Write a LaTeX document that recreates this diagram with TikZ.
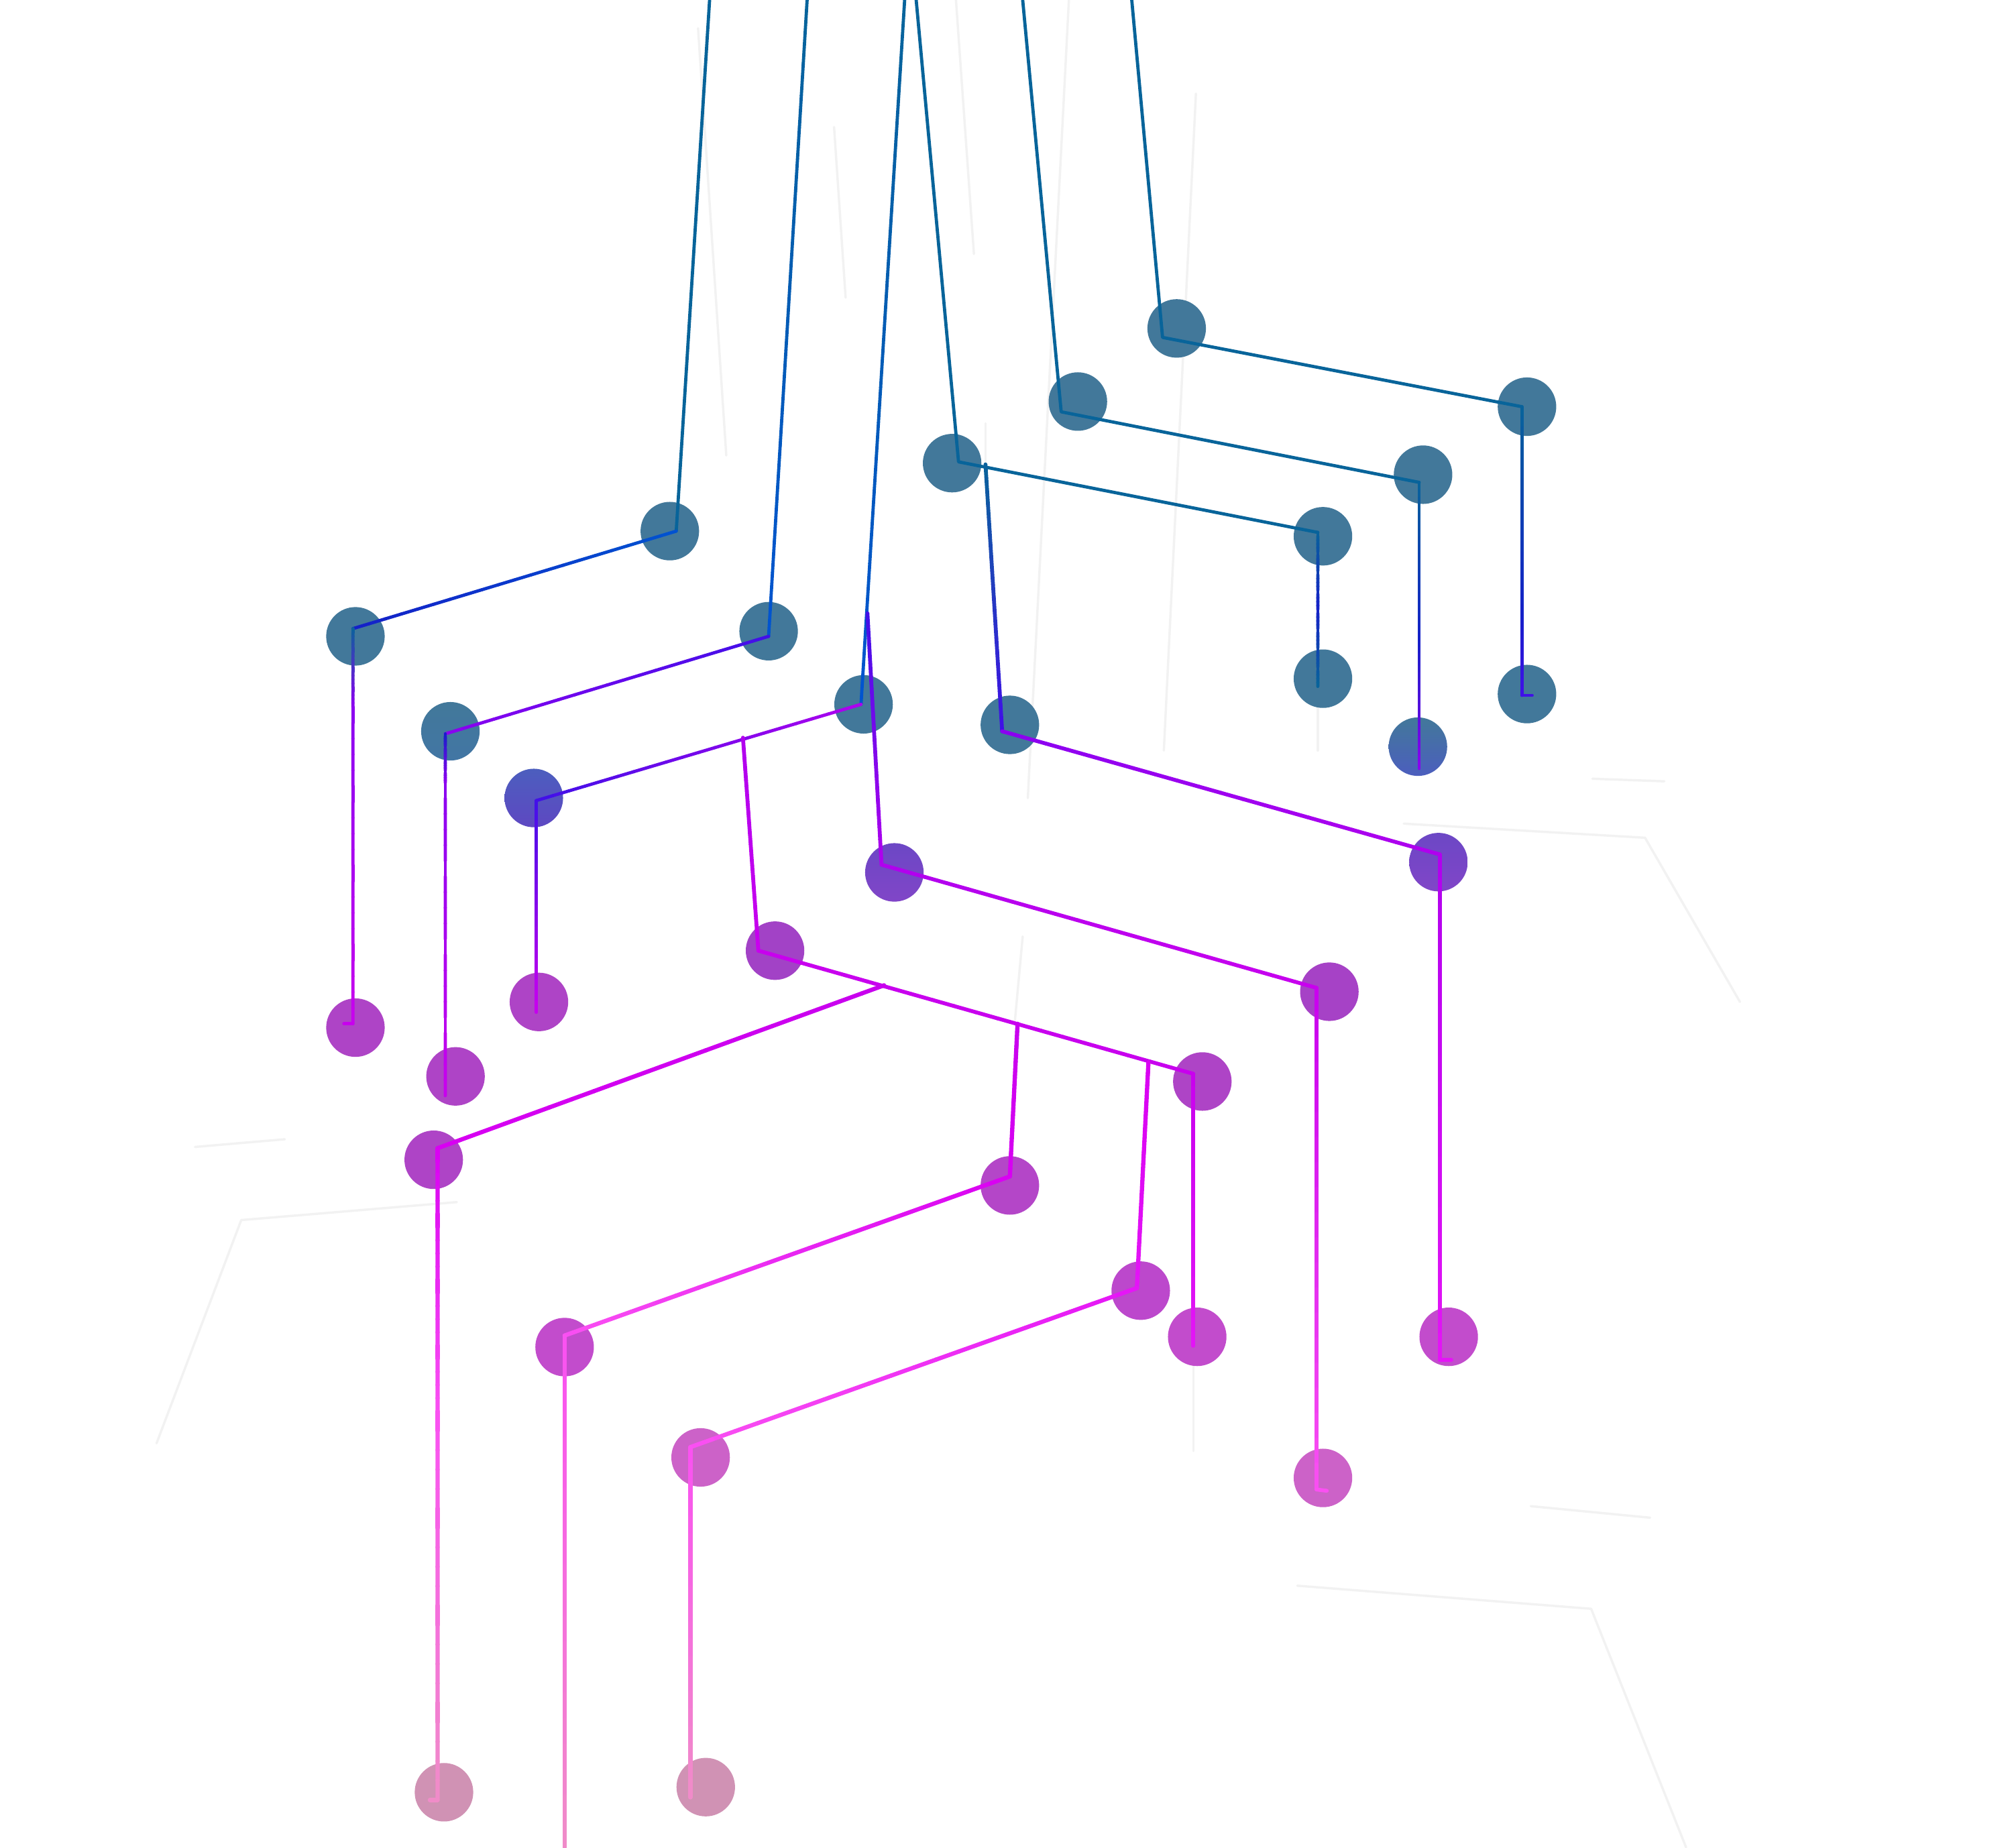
\documentclass[tikz,border=0pt]{standalone}
\usetikzlibrary{calc}
\definecolor{cT}{HTML}{08649A}
\definecolor{cB}{HTML}{0054D0}
\definecolor{cBd}{HTML}{1420C8}
\definecolor{cBV}{HTML}{4010E8}
\definecolor{cV}{HTML}{8A00F0}
\definecolor{cP}{HTML}{B000EE}
\definecolor{cM}{HTML}{C800EE}
\definecolor{cMd}{HTML}{D800F2}
\definecolor{cMb}{HTML}{E414F6}
\definecolor{cPk}{HTML}{FA50F2}
\definecolor{cPl}{HTML}{F08CC8}
\definecolor{dT}{HTML}{42789A}
\definecolor{dTb}{HTML}{4276A4}
\definecolor{dBl}{HTML}{4C5EBE}
\definecolor{dBV}{HTML}{5E48C2}
\definecolor{dVi}{HTML}{7A46C8}
\definecolor{dPu}{HTML}{A642C6}
\definecolor{dPm}{HTML}{AE44C6}
\definecolor{dMa}{HTML}{BC48CC}
\definecolor{dMl}{HTML}{C24CCC}
\definecolor{dLi}{HTML}{CC62C8}
\definecolor{dPk}{HTML}{D092B4}
\newcommand\wireseg[4]{%
  \foreach \k in {1,...,20}{%
    \pgfmathsetmacro\pa{(\k-1)/20}%
    \pgfmathsetmacro\pb{\k/20}%
    \pgfmathtruncatemacro\pc{round(100*(\k-0.5)/20)}%
    \draw[color=#4!\pc!#3] ($(#1)!\pa!(#2)$) -- ($(#1)!\pb!(#2)$);
  }}
\begin{document}
\begin{tikzpicture}[x=0.5pt,y=-0.5pt,line cap=round,line join=round,
  dot/.style={circle,inner sep=0pt,minimum size=22.8pt,draw=none},
  faint/.style={draw=black!5,line width=0.9pt},
  thinwire/.style={line width=1.25pt},
  midwire/.style={line width=1.5pt},
  thickwire/.style={line width=1.65pt}]
\useasboundingbox (0,0) rectangle (1568,1440);
\fill[white] (0,0) rectangle (1568,1440);

% faint background traces
\coordinate (g1a) at (544,22); \coordinate (g1b) at (566,355);
\coordinate (g2a) at (745,0); \coordinate (g2b) at (759,198);
\coordinate (g3a) at (650,99); \coordinate (g3b) at (659,232);
\coordinate (g4a) at (833,0); \coordinate (g4b) at (801,622);
\coordinate (g5a) at (932,73); \coordinate (g5b) at (907,585);
\coordinate (g6a) at (1094,642); \coordinate (g6b) at (1282,653); \coordinate (g6c) at (1356,781);
\coordinate (g7a) at (1241,607); \coordinate (g7b) at (1297,609);
\coordinate (g8a) at (356,937); \coordinate (g8b) at (188,951); \coordinate (g8c) at (122,1125);
\coordinate (g9a) at (152,894); \coordinate (g9b) at (222,888);
\coordinate (g10a) at (1011,1236); \coordinate (g10b) at (1240,1254); \coordinate (g10c) at (1314,1440);
\coordinate (g11a) at (1193,1174); \coordinate (g11b) at (1286,1183);
\coordinate (g12a) at (930,1065); \coordinate (g12b) at (930,1131);
\coordinate (g13a) at (797,730); \coordinate (g13b) at (791,795);
\coordinate (g14a) at (1027,545); \coordinate (g14b) at (1027,585);
\coordinate (g15a) at (768,330); \coordinate (g15b) at (768,362);
\draw[faint] (g1a) -- (g1b);
\draw[faint] (g2a) -- (g2b);
\draw[faint] (g3a) -- (g3b);
\draw[faint] (g4a) -- (g4b);
\draw[faint] (g5a) -- (g5b);
\draw[faint] (g6a) -- (g6b) -- (g6c);
\draw[faint] (g7a) -- (g7b);
\draw[faint] (g8a) -- (g8b) -- (g8c);
\draw[faint] (g9a) -- (g9b);
\draw[faint] (g10a) -- (g10b) -- (g10c);
\draw[faint] (g11a) -- (g11b);
\draw[faint] (g12a) -- (g12b);
\draw[faint] (g13a) -- (g13b);
\draw[faint] (g14a) -- (g14b);
\draw[faint] (g15a) -- (g15b);

% dots
\node[dot,fill=dT] (d1) at (917,256) {};
\node[dot,fill=dT] (d2) at (1190,317) {};
\node[dot,fill=dT] (d3) at (840,313) {};
\node[dot,fill=dT] (d4) at (1109,370) {};
\node[dot,fill=dT] (d5) at (742,361) {};
\node[dot,fill=dT] (d6) at (1031,418) {};
\node[dot,fill=dT] (d7) at (522,414) {};
\node[dot,fill=dT] (d8) at (277,496) {};
\node[dot,fill=dT] (d9) at (599,492) {};
\node[dot,top color=dT,bottom color=dTb] (d10) at (351,570) {};
\node[dot,fill=dT] (d11) at (673,549) {};
\node[dot,fill=dT] (d12) at (1031,529) {};
\node[dot,fill=dT] (d13) at (1190,541) {};
\node[dot,fill=dT] (d14) at (787,565) {};
\node[dot,top color=dT,bottom color=dBl] (d15) at (1105,582) {};
\node[dot,top color=dBl,bottom color=dBV] (d16) at (416,622) {};
\node[dot,top color=dBV!50!dVi,bottom color=dVi!85!dPu] (d17) at (1121,672) {};
\node[dot,top color=dBV!50!dVi,bottom color=dVi!85!dPu] (d18) at (697,680) {};
\node[dot,fill=dPu!90!dVi] (d19) at (604,741) {};
\node[dot,fill=dPu] (d20) at (1036,773) {};
\node[dot,fill=dPm] (d21) at (277,801) {};
\node[dot,fill=dPm] (d22) at (420,781) {};
\node[dot,fill=dPm] (d23) at (355,839) {};
\node[dot,fill=dPm] (d24) at (937,843) {};
\node[dot,fill=dPm] (d25) at (338,904) {};
\node[dot,fill=dPm!60!dMa] (d26) at (787,924) {};
\node[dot,fill=dMa] (d27) at (889,1006) {};
\node[dot,fill=dMl] (d28) at (440,1050) {};
\node[dot,fill=dMl] (d29) at (933,1042) {};
\node[dot,fill=dMl] (d30) at (1129,1042) {};
\node[dot,fill=dLi] (d31) at (546,1136) {};
\node[dot,fill=dLi] (d32) at (1031,1152) {};
\node[dot,fill=dPk] (d33) at (346,1397) {};
\node[dot,fill=dPk] (d34) at (550,1393) {};

% ---------- left group from the top ----------
\begin{scope}[thinwire]
\coordinate (l1a) at (553,0); \coordinate (l1b) at (527,414);
\coordinate (l1c) at (275,490); \coordinate (l1m) at (275,551);
\coordinate (l1d) at (275,798); \coordinate (l1e) at (268,798);
\draw[cT] (l1a) -- (l1b);
\wireseg{l1b}{l1c}{cB}{cBd}
\wireseg{l1c}{l1m}{cT}{cV}
\wireseg{l1m}{l1d}{cV}{cM}
\draw[cM] (l1d) -- (l1e);

\coordinate (l2a) at (629,0); \coordinate (l2b) at (599,496);
\coordinate (l2c) at (347,572); \coordinate (l2m) at (347,610);
\coordinate (l2d) at (347,854);
\wireseg{l2a}{l2b}{cT}{cB}
\wireseg{l2b}{l2c}{cBV}{cV}
\wireseg{l2c}{l2m}{cBd}{cV}
\wireseg{l2m}{l2d}{cV}{cM}

\coordinate (l3a) at (705,0); \coordinate (l3b) at (671,549);
\coordinate (l3c) at (418,624); \coordinate (l3d) at (418,789);
\wireseg{l3a}{l3b}{cT}{cB}
\wireseg{l3b}{l3c}{cP}{cBV}
\wireseg{l3c}{l3d}{cBV}{cM}

% ---------- right group from the top ----------
\coordinate (r1a) at (882,0); \coordinate (r1b) at (906,263);
\coordinate (r1c) at (1186,317); \coordinate (r1m) at (1186,480);
\coordinate (r1d) at (1186,542); \coordinate (r1e) at (1194,542);
\draw[cT] (r1a) -- (r1b) -- (r1c);
\wireseg{r1c}{r1m}{cT}{cBd}
\wireseg{r1m}{r1d}{cBd}{cBV}
\draw[cBV] (r1d) -- (r1e);

\coordinate (r2a) at (797,0); \coordinate (r2b) at (827,321);
\coordinate (r2c) at (1106,376); \coordinate (r2m) at (1106,500);
\coordinate (r2d) at (1106,599);
\draw[cT] (r2a) -- (r2b) -- (r2c);
\wireseg{r2c}{r2m}{cT}{cBd}
\wireseg{r2m}{r2d}{cBd}{cV}

\coordinate (r3a) at (714,0); \coordinate (r3b) at (747,360);
\coordinate (r3c) at (1027,415); \coordinate (r3m) at (1027,475);
\coordinate (r3d) at (1027,535);
\draw[cT] (r3a) -- (r3b) -- (r3c);
\wireseg{r3c}{r3m}{cT}{cBd}
\wireseg{r3m}{r3d}{cBd}{cT}
\end{scope}

% ---------- middle group ----------
\begin{scope}[midwire]
\coordinate (m1a) at (768,362); \coordinate (m1b) at (781,570);
\coordinate (m1c) at (1122,666); \coordinate (m1d) at (1122,1060);
\coordinate (m1e) at (1131,1060);
\wireseg{m1a}{m1b}{cT}{cBV}
\wireseg{m1b}{m1c}{cV}{cP}
\wireseg{m1c}{m1d}{cP}{cMb}
\draw[cMb] (m1d) -- (m1e);

\coordinate (m2a) at (676,478); \coordinate (m2b) at (687,674);
\coordinate (m2c) at (1026,770); \coordinate (m2d) at (1026,1161);
\coordinate (m2e) at (1034,1162);
\wireseg{m2a}{m2b}{cBV}{cP}
\wireseg{m2b}{m2c}{cP}{cM}
\wireseg{m2c}{m2d}{cM}{cPk}
\draw[cPk] (m2d) -- (m2e);

\coordinate (m3a) at (579,575); \coordinate (m3b) at (591,741);
\coordinate (m3c) at (930,837); \coordinate (m3d) at (930,1049);
\wireseg{m3a}{m3b}{cP}{cM}
\wireseg{m3b}{m3c}{cM}{cM}
\wireseg{m3c}{m3d}{cM}{cMb}
\end{scope}

% ---------- bottom group ----------
\begin{scope}[thickwire]
\coordinate (b1a) at (689,768); \coordinate (b1b) at (341,895);
\coordinate (b1m) at (341,1100); \coordinate (b1c) at (341,1403);
\coordinate (b1e) at (335,1403);
\wireseg{b1a}{b1b}{cM}{cMd}
\wireseg{b1b}{b1m}{cMd}{cPk}
\wireseg{b1m}{b1c}{cPk}{cPl}
\draw[cPl] (b1c) -- (b1e);

\coordinate (b2a) at (793,798); \coordinate (b2b) at (787,917);
\coordinate (b2c) at (440,1041); \coordinate (b2d) at (440,1440);
\wireseg{b2a}{b2b}{cM}{cMd}
\wireseg{b2b}{b2c}{cMd}{cPk}
\wireseg{b2c}{b2d}{cPk}{cPl}

\coordinate (b3a) at (895,828); \coordinate (b3b) at (886,1004);
\coordinate (b3c) at (538,1128); \coordinate (b3d) at (538,1401);
\wireseg{b3a}{b3b}{cMd}{cMb}
\wireseg{b3b}{b3c}{cMb}{cPk}
\wireseg{b3c}{b3d}{cPk}{cPl}
\end{scope}
\end{tikzpicture}
\end{document}
